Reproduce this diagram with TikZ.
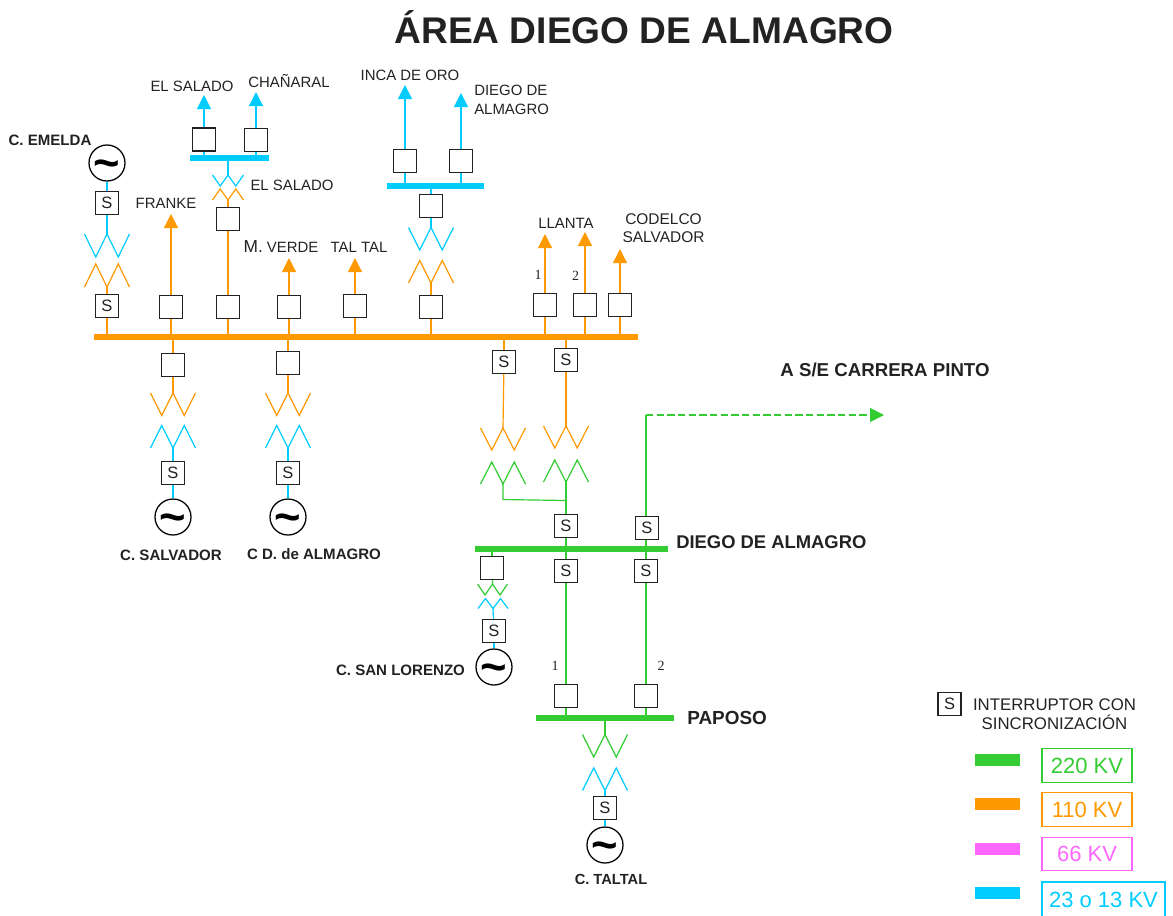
\documentclass[tikz,border=0pt]{standalone}
\usepackage{fontspec}
\setmainfont{Liberation Sans}
\newfontfamily\serifnum{Liberation Serif}
\usetikzlibrary{arrows.meta}
\definecolor{gr}{HTML}{33CC33}
\definecolor{orn}{HTML}{FF9900}
\definecolor{blu}{HTML}{00CCFF}
\definecolor{mag}{HTML}{FF66FF}
\definecolor{ink}{HTML}{222222}
% winding: name, x, y (centre point), colour, half-tooth width, signed height
\newcommand{\wind}[6]{%
  \coordinate (#1) at (#2,#3);
  \draw[line width=0.9pt,color=#4] (#1) ++(-2*#5,0) -- ++(#5,#6) -- ++(#5,-#6) -- ++(#5,#6) -- ++(#5,-#6);
}
\tikzset{
  x=0.75pt,y=-0.75pt,
  swbox/.style={draw=ink,line width=0.9pt,fill=white,minimum size=17.25pt,inner sep=0pt,font=\fontsize{12.4}{14}\selectfont,text=ink},
  genr/.style={circle,draw=black,line width=0.95pt,fill=white,minimum size=27pt,inner sep=0pt,font=\fontsize{34}{34}\bfseries\selectfont},
  busbar/.style n args={2}{fill=#1,inner sep=0pt,minimum height=4.5pt,minimum width=#2},
  wire/.style={line width=0.9pt,color=#1},
  feed/.style={line width=0.9pt,color=#1,-{Triangle[length=10.5pt,width=10.5pt]}},
  lbl/.style={font=\fontsize{11.2}{13}\selectfont,text=ink,inner sep=0pt},
  blbl/.style={font=\fontsize{11.3}{13}\bfseries\selectfont,text=ink,inner sep=0pt},
  num/.style={font=\serifnum\fontsize{10.5}{12}\selectfont,text=ink,inner sep=0pt},
  legbar/.style={fill=#1,inner sep=0pt,minimum width=33.75pt,minimum height=9pt},
  legbox/.style={draw=#1,text=#1,line width=0.8pt,inner sep=0pt,minimum width=67.5pt,minimum height=25pt,font=\fontsize{16.5}{18}\selectfont},
}
\newcommand{\gensym}{\raisebox{-11.5pt}[0pt][0pt]{\textasciitilde}}
\begin{document}
\begin{tikzpicture}
\useasboundingbox (0,0) rectangle (1173,915);
% title
\node[font=\fontsize{27.85}{30}\bfseries\selectfont,text=ink,inner sep=0pt] (title) at (644,27) {ÁREA DIEGO DE ALMAGRO};
% buses
\node[busbar={orn}{408pt}] (b110) at (366,337) {};
\node[busbar={blu}{59.25pt}] (bsal) at (229.5,158) {};
\node[busbar={blu}{72.75pt}] (binc) at (435.5,186) {};
\node[busbar={gr}{144.75pt}] (bda) at (571.5,549) {};
\node[busbar={gr}{103.5pt}] (bpap) at (605,718) {};
% free arrow ends
\coordinate (aSal) at (204,95);
\coordinate (aCha) at (256,92);
\coordinate (aFra) at (171,214);
\coordinate (aVer) at (289,258);
\coordinate (aTal) at (355,258);
\coordinate (aInc) at (405,85);
\coordinate (aDie) at (461,93);
\coordinate (aLl1) at (545,234);
\coordinate (aLl2) at (585,232);
\coordinate (aCod) at (620,249);
\coordinate (aCar) at (884,415);
\coordinate (cCar) at (646,415);
\coordinate (jL) at (503,499.5);
\coordinate (jR) at (566,500.5);
% windings
\wind{wEa}{107}{234}{blu}{11.25}{23}
\wind{wEb}{107}{287}{orn}{11.25}{-23}
\wind{wSa}{173}{393}{orn}{11.25}{22.5}
\wind{wSb}{173}{448}{blu}{11.25}{-22.5}
\wind{wAa}{288}{393}{orn}{11.25}{22.5}
\wind{wAb}{288}{448}{blu}{11.25}{-22.5}
\wind{wLa}{228}{175}{blu}{7.75}{11}
\wind{wLb}{228}{200}{orn}{7.75}{-11}
\wind{wIa}{431}{227.5}{blu}{11.25}{22.5}
\wind{wIb}{431}{283}{orn}{11.25}{-22.5}
\wind{wTa}{503}{428}{orn}{11.25}{22}
\wind{wTb}{503}{484}{gr}{11.25}{-22}
\wind{wUa}{566}{426}{orn}{11.25}{22}
\wind{wUb}{566}{482}{gr}{11.25}{-22}
\wind{wLoa}{492.5}{584}{gr}{7.5}{11}
\wind{wLob}{493}{608.5}{blu}{7.5}{-10}
\wind{wPa}{605}{734.5}{gr}{11.25}{22.5}
\wind{wPb}{605}{790.5}{blu}{11.25}{-22.5}
% switches
\node[swbox] (sE1) at (107,203) {S};
\node[swbox] (sE2) at (107,306) {S};
\node[swbox] (bFra) at (171,307) {};
\node[swbox] (bEl) at (228,307) {};
\node[swbox] (bEl2) at (228,219) {};
\node[swbox] (bSal) at (204,139.5) {};
\node[swbox] (bCha) at (256,140) {};
\node[swbox] (bVer) at (289,307) {};
\node[swbox] (bTal) at (355,306) {};
\node[swbox] (bIb) at (431,307) {};
\node[swbox] (bIa) at (431,206) {};
\node[swbox] (bInc) at (405,161) {};
\node[swbox] (bDie) at (461,161) {};
\node[swbox] (bLl1) at (545,305) {};
\node[swbox] (bLl2) at (585,305) {};
\node[swbox] (bCod) at (620,305) {};
\node[swbox] (bSa) at (173,365) {};
\node[swbox] (sSa) at (173,473) {S};
\node[swbox] (bAl) at (288,363) {};
\node[swbox] (sAl) at (288,473) {S};
\node[swbox] (sT) at (504,362) {S};
\node[swbox] (sU) at (566,360) {S};
\node[swbox] (sD1) at (566,526) {S};
\node[swbox] (sD2) at (647,528) {S};
\node[swbox] (sD3) at (566,571) {S};
\node[swbox] (sD4) at (646,571) {S};
\node[swbox] (bLo) at (492,568) {};
\node[swbox] (sLo) at (494,631) {S};
\node[swbox] (bP1) at (566,696) {};
\node[swbox] (bP2) at (646,696) {};
\node[swbox] (sP) at (605,808) {S};
% generators
\node[genr] (gE) at (107,163) {\gensym};
\node[genr] (gS) at (173,517) {\gensym};
\node[genr] (gA) at (288,517) {\gensym};
\node[genr] (gL) at (494,667) {\gensym};
\node[genr] (gP) at (605,845) {\gensym};
% 23-13 kV wires
\draw[wire=blu] (gE) -- (sE1);
\draw[wire=blu] (sE1) -- (wEa);
\draw[feed=blu] (bSal) -- (aSal);
\draw[feed=blu] (bCha) -- (aCha);
\draw[wire=blu] (bSal) -- (bSal |- bsal);
\draw[wire=blu] (bCha) -- (bCha |- bsal);
\draw[wire=blu] (wLa |- bsal) -- (wLa);
\draw[feed=blu] (bInc) -- (aInc);
\draw[feed=blu] (bDie) -- (aDie);
\draw[wire=blu] (bInc) -- (bInc |- binc);
\draw[wire=blu] (bDie) -- (bDie |- binc);
\draw[wire=blu] (bIa |- binc) -- (bIa);
\draw[wire=blu] (bIa) -- (wIa);
\draw[wire=blu] (wSb) -- (sSa);
\draw[wire=blu] (sSa) -- (gS);
\draw[wire=blu] (wAb) -- (sAl);
\draw[wire=blu] (sAl) -- (gA);
\draw[wire=blu] (wLob) -- (sLo);
\draw[wire=blu] (sLo) -- (gL);
\draw[wire=blu] (wPb) -- (sP);
\draw[wire=blu] (sP) -- (gP);
% 110 kV wires
\draw[wire=orn] (wEb) -- (sE2);
\draw[wire=orn] (sE2) -- (sE2 |- b110);
\draw[feed=orn] (bFra) -- (aFra);
\draw[wire=orn] (bFra) -- (bFra |- b110);
\draw[wire=orn] (bEl) -- (bEl |- b110);
\draw[wire=orn] (bEl) -- (bEl2);
\draw[wire=orn] (bEl2) -- (wLb);
\draw[feed=orn] (bVer) -- (aVer);
\draw[wire=orn] (bVer) -- (bVer |- b110);
\draw[feed=orn] (bTal) -- (aTal);
\draw[wire=orn] (bTal) -- (bTal |- b110);
\draw[wire=orn] (wIb) -- (bIb);
\draw[wire=orn] (bIb) -- (bIb |- b110);
\draw[feed=orn] (bLl1) -- (aLl1);
\draw[wire=orn] (bLl1) -- (bLl1 |- b110);
\draw[feed=orn] (bLl2) -- (aLl2);
\draw[wire=orn] (bLl2) -- (bLl2 |- b110);
\draw[feed=orn] (bCod) -- (aCod);
\draw[wire=orn] (bCod) -- (bCod |- b110);
\draw[wire=orn] (bSa |- b110) -- (bSa);
\draw[wire=orn] (bSa) -- (wSa);
\draw[wire=orn] (bAl |- b110) -- (bAl);
\draw[wire=orn] (bAl) -- (wAa);
\draw[wire=orn] (sT |- b110) -- (sT);
\draw[wire=orn] (sT) -- (wTa);
\draw[wire=orn] (sU |- b110) -- (sU);
\draw[wire=orn] (sU) -- (wUa);
% 220 kV wires
\draw[wire=gr] (wTb) -- (jL) -- (jR);
\draw[wire=gr] (wUb) -- (sD1);
\draw[wire=gr] (sD1) -- (sD1 |- bda);
\draw[wire=gr] (sD3 |- bda) -- (sD3);
\draw[wire=gr] (sD3) -- (bP1);
\draw[wire=gr] (sD4 |- bda) -- (sD4);
\draw[wire=gr] (sD4) -- (bP2);
\draw[wire=gr] (sD4 |- bda) -- (sD4 |- sD2.south);
\draw[wire=gr] (sD2.north -| cCar) -- (cCar);
\draw[wire=gr,dash pattern=on 5.5pt off 2.5pt,-{Triangle[length=10.5pt,width=10.5pt]}] (cCar) -- (aCar);
\draw[wire=gr] (bLo |- bda) -- (bLo);
\draw[wire=gr] (bLo) -- (wLoa);
\draw[wire=gr] (bP1) -- (bP1 |- bpap);
\draw[wire=gr] (bP2) -- (bP2 |- bpap);
\draw[wire=gr] (wPa |- bpap) -- (wPa);
% labels
\node[blbl] (tEm) at (50,140) {C. EMELDA};
\node[lbl] (tSal) at (192,86) {EL SALADO};
\node[lbl] (tCha) at (289,81) {CHAÑARAL};
\node[lbl] (tSal2) at (292,185) {EL SALADO};
\node[lbl] (tFra) at (166,203) {FRANKE};
\node[lbl] (tVer) at (281,247) {{\fontsize{13}{13}\selectfont M.} VERDE};
\node[lbl] (tTal) at (359,247) {TAL TAL};
\node[lbl] (tInc) at (410,75) {INCA DE ORO};
\node[lbl,align=left,anchor=west] (tDie) at (474,100) {DIEGO DE\\[1pt]ALMAGRO};
\node[lbl] (tLla) at (566,223) {LLANTA};
\node[lbl,align=center,font=\fontsize{11.6}{13.5}\selectfont] (tCod) at (663.5,228) {CODELCO\\SALVADOR};
\node[num] (n1) at (538,275) {1};
\node[num] (n2) at (575.5,276) {2};
\node[num] (n3) at (555,666) {1};
\node[num] (n4) at (661,666) {2};
\node[blbl] (tCS) at (171,555) {C. SALVADOR};
\node[blbl] (tCA) at (314,554) {C D. de ALMAGRO};
\node[blbl] (tLo) at (400.5,670) {C. SAN LORENZO};
\node[blbl,font=\fontsize{11}{13}\bfseries\selectfont] (tTa) at (611,879) {C. TALTAL};
\node[blbl,font=\fontsize{14}{16}\bfseries\selectfont] (tCar) at (885,370) {A S/E CARRERA PINTO};
\node[blbl,font=\fontsize{13.8}{16}\bfseries\selectfont,anchor=west] (tDA) at (676,542) {DIEGO DE ALMAGRO};
\node[blbl,font=\fontsize{14.2}{16}\bfseries\selectfont,anchor=west] (tPa) at (687,718) {PAPOSO};
% legend
\node[swbox] (lS) at (949.5,704) {S};
\node[lbl,align=center,font=\fontsize{12.6}{14.5}\selectfont] (lT) at (1054.5,714) {INTERRUPTOR CON\\SINCRONIZACIÓN};
\node[legbar=gr] (l1) at (997.5,760) {};
\node[legbar=orn] (l2) at (997.5,804) {};
\node[legbar=mag] (l3) at (997.5,849) {};
\node[legbar=blu] (l4) at (997.5,893) {};
\node[legbox=gr] (k1) at (1087,765.5) {220 KV};
\node[legbox=orn] (k2) at (1087,809.5) {110 KV};
\node[legbox=mag] (k3) at (1087,854) {66 KV};
\node[legbox=blu,minimum width=92.25pt,minimum height=27pt] (k4) at (1103.5,900) {23 o 13 KV};
\end{tikzpicture}
\end{document}
